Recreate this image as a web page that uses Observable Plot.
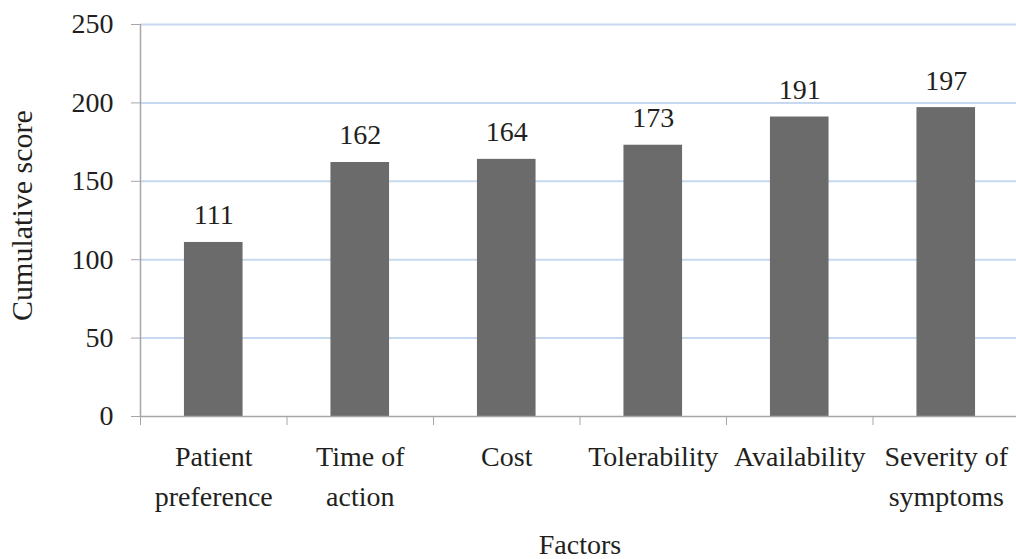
<!DOCTYPE html>
<html>
<head>
<meta charset="utf-8">
<script src="https://cdn.jsdelivr.net/npm/d3@7"></script>
<script src="https://cdn.jsdelivr.net/npm/@observablehq/plot@0.6"></script>
<style>
  html, body { margin: 0; padding: 0; background: #fff; }
  #chart svg { display: block; }
</style>
</head>
<body>
<div id="chart"></div>
<script>
const categories = ["Patient\npreference", "Time of\naction", "Cost", "Tolerability", "Availability", "Severity of\nsymptoms"];
const scores = [111, 162, 164, 173, 191, 197];
const yTicks = [0, 50, 100, 150, 200, 250];
const gridValues = [50, 100, 150, 200, 250];
const xLabel = "Factors";
const yLabel = "Cumulative score";

const data = categories.map((c, i) => ({i, c, v: scores[i]}));
const boundaries = categories.map((c, i) => i).concat([categories.length]);
const centers = categories.map((c, i) => i + 0.5);

const FONT = "'Liberation Serif', 'DejaVu Serif', serif";
const FS = 28;
const TXT = "#231f20";
const AX = "#a6a6a6";

const chart = Plot.plot({
  width: 1016,
  height: 559,
  marginTop: 24,
  marginBottom: 143,
  marginLeft: 140,
  marginRight: -3,
  style: {fontFamily: FONT, fontSize: FS + "px", color: TXT, background: "#fff"},
  x: {domain: [0, categories.length]},
  y: {domain: [0, 250]},
  marks: [
    Plot.ruleY(gridValues, {stroke: "#c6d9f0", strokeWidth: 2}),
    Plot.rectY(data, {x1: d => d.i + 0.3, x2: d => d.i + 0.7, y1: 0, y2: "v", fill: "#6b6b6b"}),
    Plot.text(data, {x: d => d.i + 0.5, y: "v", text: d => String(d.v), dy: -27, fontSize: FS, fill: TXT}),
    Plot.ruleY([0], {stroke: AX, strokeWidth: 1.5}),
    Plot.ruleX([0], {stroke: AX, strokeWidth: 1.5}),
    Plot.axisY({ticks: yTicks, tickSize: 9, tickPadding: 18, label: null, stroke: AX, fill: TXT, fontSize: FS}),
    Plot.axisX({ticks: boundaries, tickSize: 9, tickFormat: () => "", label: null, stroke: AX}),
    Plot.axisX({ticks: centers, tickSize: 0, tickPadding: 22, tickFormat: d => categories[Math.floor(d)], label: null, lineHeight: 1.4, fill: TXT, fontSize: FS}),
    Plot.text([yLabel], {frameAnchor: "left", dx: -118, dy: -5, rotate: -90, fontSize: 30, fill: TXT, textAnchor: "middle", lineAnchor: "middle"}),
    Plot.text([xLabel], {frameAnchor: "bottom", dy: 129, fontSize: FS, fill: TXT, textAnchor: "middle", lineAnchor: "middle"})
  ]
});
document.getElementById("chart").appendChild(chart);
</script>
</body>
</html>
